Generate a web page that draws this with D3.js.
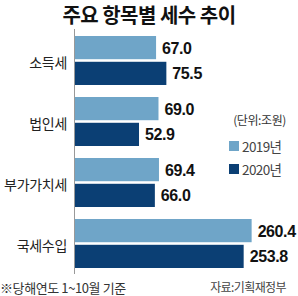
<!DOCTYPE html>
<html>
<head>
<meta charset="utf-8">
<script src="https://cdn.jsdelivr.net/npm/d3@7"></script>
<style>
  html, body { margin: 0; padding: 0; background: #fff; }
  svg { display: block; }
  text { font-family: "Noto Sans CJK KR", "Noto Sans", sans-serif; }
</style>
</head>
<body>
<svg id="chart" width="298" height="296"></svg>
<script>
const categories = ['소득세', '법인세', '부가가치세', '국세수입'];
const seriesNames = ['2019년', '2020년'];
const values2019 = [67.0, 69.0, 69.4, 260.4];
const values2020 = [75.5, 52.9, 66.0, 253.8];
const colors = ['#6fa5c8', '#0b3f74'];

const W = 298, H = 296;
const left = 75;

const svg = d3.select('#chart');

const rows = categories.map((c, i) => ({
    cat: c,
    vals: [values2019[i], values2020[i]]
}));

// broken axis: the big row is compressed
const x = d3.scaleLinear()
    .domain([0, 100, 240, 280])
    .range([left, left + 121, 227, 275.3]);

const y = d3.scaleBand()
    .domain(categories)
    .range([36, 268])
    .paddingInner(0.197)
    .paddingOuter(0);

const ySub = d3.scaleBand()
    .domain([0, 1])
    .range([0, y.bandwidth()])
    .paddingInner(0.1);

// title
svg.append('text')
    .attr('x', W / 2)
    .attr('y', 23)
    .attr('text-anchor', 'middle')
    .style('font-size', '20px')
    .style('font-weight', 'bold')
    .style('letter-spacing', '-0.5px')
    .attr('fill', '#111')
    .text('주요 항목별 세수 추이');

// axis line
svg.append('line')
    .attr('x1', left - 0.5).attr('x2', left - 0.5)
    .attr('y1', 29).attr('y2', 274)
    .attr('stroke', '#999')
    .attr('stroke-width', 1);

const g = svg.selectAll('g.row')
    .data(rows)
    .enter()
    .append('g')
    .attr('class', 'row')
    .attr('transform', d => `translate(0, ${y(d.cat)})`);

g.append('text')
    .attr('x', 67)
    .attr('y', y.bandwidth() / 2 + 2)
    .attr('text-anchor', 'end')
    .attr('dominant-baseline', 'central')
    .style('font-size', '14px')
    .style('letter-spacing', '-0.3px')
    .attr('fill', '#222')
    .text(d => d.cat);

g.selectAll('rect')
    .data(d => d.vals)
    .enter()
    .append('rect')
    .attr('x', left)
    .attr('y', (d, i) => ySub(i))
    .attr('width', d => x(d) - left)
    .attr('height', ySub.bandwidth())
    .attr('fill', (d, i) => colors[i]);

g.selectAll('text.val')
    .data(d => d.vals)
    .enter()
    .append('text')
    .attr('class', 'val')
    .attr('x', d => x(d) + 6)
    .attr('y', (d, i) => ySub(i) + ySub.bandwidth() / 2 + 6)
    .style('font-family', '"Liberation Sans", Arial, sans-serif')
    .style('font-size', '16px')
    .style('font-weight', 'bold')
    .style('letter-spacing', '-0.4px')
    .attr('fill', '#111')
    .text(d => d.toFixed(1));

// legend
svg.append('text')
    .attr('x', 286)
    .attr('y', 125)
    .attr('text-anchor', 'end')
    .style('font-size', '12px')
    .style('letter-spacing', '-0.4px')
    .attr('fill', '#333')
    .text('(단위:조원)');

const leg = svg.selectAll('g.leg')
    .data(seriesNames)
    .enter()
    .append('g')
    .attr('class', 'leg')
    .attr('transform', (d, i) => `translate(229, ${141 + i * 23})`);

leg.append('rect')
    .attr('width', 10).attr('height', 10)
    .attr('fill', (d, i) => colors[i]);

leg.append('text')
    .attr('x', 13)
    .attr('y', 5)
    .attr('dominant-baseline', 'central')
    .style('font-size', '13.5px')
    .style('letter-spacing', '-0.6px')
    .attr('fill', '#444')
    .text(d => d);

// notes
svg.append('text')
    .attr('x', 0)
    .attr('y', 293)
    .style('font-size', '13px')
    .style('letter-spacing', '-0.4px')
    .attr('fill', '#333')
    .text('※당해연도 1~10월 기준');

svg.append('text')
    .attr('x', 286)
    .attr('y', 292)
    .attr('text-anchor', 'end')
    .style('font-size', '12px')
    .style('letter-spacing', '-0.6px')
    .attr('fill', '#444')
    .text('자료:기획재정부');
</script>
</body>
</html>
